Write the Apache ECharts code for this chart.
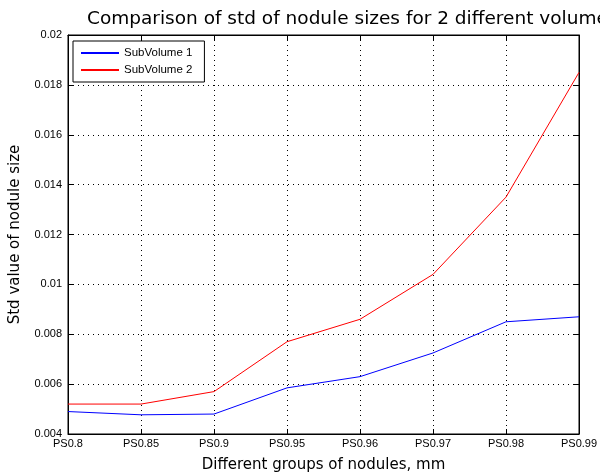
<!DOCTYPE html>
<html><head><meta charset="utf-8">
<script src="https://cdn.jsdelivr.net/npm/echarts@6/dist/echarts.min.js"></script>
<style>html,body{margin:0;padding:0;background:#fff}#c{width:600px;height:474px}</style>
</head><body><div id="c"></div>
<script>
const categories = ['PS0.8','PS0.85','PS0.9','PS0.95','PS0.96','PS0.97','PS0.98','PS0.99'];
const subVolume1 = [0.0049,0.00477,0.0048,0.00585,0.0063,0.00725,0.0085,0.0087];
const subVolume2 = [0.0052,0.0052,0.0057,0.0077,0.0086,0.0104,0.0135,0.0185];
const yTicks = [0.004,0.006,0.008,0.01,0.012,0.014,0.016,0.018,0.02];

const chart = echarts.init(document.getElementById('c'));
const font = 'Liberation Sans, Arial, sans-serif';
const wide = 'DejaVu Sans, sans-serif';
const tickLabel = {color:'#000', fontSize:11, fontFamily:font};
chart.setOption({
  animation:false,
  backgroundColor:'#fff',
  title:{text:'Comparison of std of nodule sizes for 2 different volume', left:82, top:5,
    textStyle:{fontSize:18.5, fontWeight:'normal', color:'#000', fontFamily:wide}},
  legend:{orient:'vertical', left:73, top:41, padding:[6,12,6,8], itemGap:5,
    backgroundColor:'#fff', borderColor:'#000', borderWidth:1,
    itemWidth:38, itemHeight:2, icon:'rect',
    textStyle:{fontSize:11.5, color:'#000', fontFamily:font},
    data:['SubVolume 1','SubVolume 2']},
  grid:{left:68, right:21, top:35, bottom:40, show:true, borderColor:'#000', borderWidth:1,
    containLabel:false, outerBoundsMode:'none'},
  xAxis:[{type:'category', data:categories, boundaryGap:false,
    name:'Different groups of nodules, mm', nameLocation:'middle', nameGap:24,
    nameTextStyle:{fontSize:15, color:'#000', fontFamily:wide},
    axisLine:{lineStyle:{color:'#000'}},
    axisTick:{inside:true, length:5, lineStyle:{color:'#000'}},
    axisLabel:Object.assign({margin:4, showMaxLabel:true}, tickLabel),
    splitLine:{show:true, lineStyle:{color:'#000', type:[1,4]}}},
   {type:'category', data:categories, boundaryGap:false, position:'top',
    axisLine:{lineStyle:{color:'#000'}}, axisTick:{inside:true, length:5, lineStyle:{color:'#000'}},
    axisLabel:{show:false}, splitLine:{show:false}}],
  yAxis:[{type:'value', min:0.004, max:0.02, interval:0.002,
    name:'Std value of nodule size', nameLocation:'middle', nameGap:45,
    nameTextStyle:{fontSize:15, color:'#000', fontFamily:wide},
    axisLine:{show:true, lineStyle:{color:'#000'}},
    axisTick:{show:true, inside:true, length:5, lineStyle:{color:'#000'}},
    axisLabel:Object.assign({margin:6, formatter:v=>String(+v.toFixed(3))}, tickLabel),
    splitLine:{show:true, lineStyle:{color:'#000', type:[1,4]}}},
   {type:'value', min:0.004, max:0.02, interval:0.002, position:'right',
    axisLine:{show:true, lineStyle:{color:'#000'}},
    axisTick:{show:true, inside:true, length:5, lineStyle:{color:'#000'}},
    axisLabel:{show:false}, splitLine:{show:false}}],
  series:[
    {name:'SubVolume 1', type:'line', data:subVolume1, symbol:'none', color:'#0000ff', lineStyle:{width:1}},
    {name:'SubVolume 2', type:'line', data:subVolume2, symbol:'none', color:'#ff0000', lineStyle:{width:1}}
  ]
});
</script></body></html>
